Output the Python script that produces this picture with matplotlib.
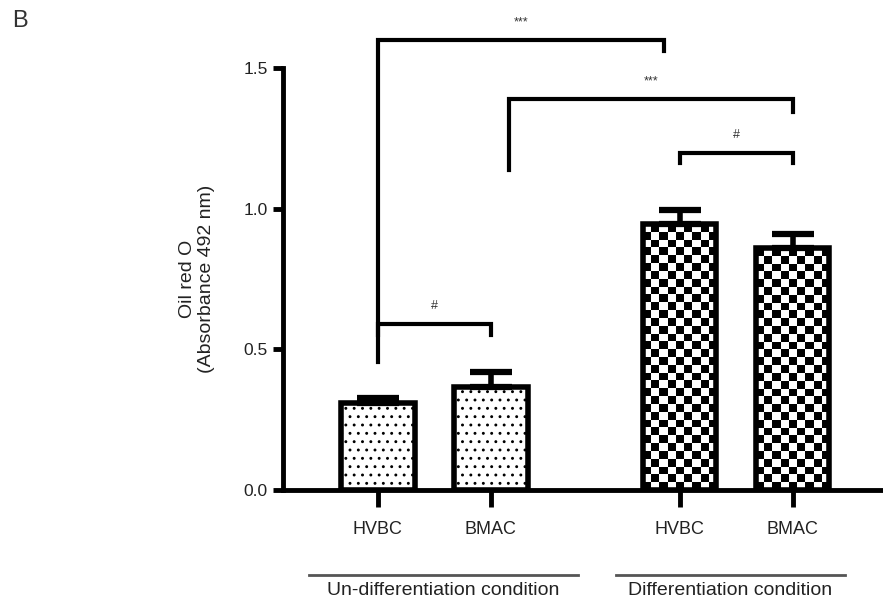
import numpy as np
import matplotlib
matplotlib.use("Agg")
import matplotlib.pyplot as plt
import matplotlib.transforms as mtransforms

plt.rcParams["font.family"] = ["Liberation Sans", "DejaVu Sans"]
plt.rcParams["hatch.linewidth"] = 0.9

# data
labels = ["HVBC", "BMAC", "HVBC", "BMAC"]
values = [0.31, 0.365, 0.945, 0.86]
errors = [0.016, 0.055, 0.05, 0.05]
groups = ["Un-differentiation condition", "Differentiation condition"]

# significance brackets: left x, right x, top y, left leg end, right leg end, label
brackets = [
    (0.0, 2.53, 1.598, 0.456, 1.559, "***"),
    (1.16, 3.67, 1.391, 1.139, 1.345, "***"),
    (2.67, 3.67, 1.199, 1.164, 1.164, "#"),
    (0.0, 1.0, 0.590, 0.552, 0.552, "#"),
]

x = np.array([0, 1, 2.67, 3.67])
bar_w = 0.65

fig = plt.figure(figsize=(8.83, 6.02), dpi=100)
ax = fig.add_axes([283 / 883, 112 / 602, 600 / 883, 422 / 602])

# un-differentiation bars: dotted fill
ax.bar(x[:2], values[:2], width=bar_w, facecolor="white", edgecolor="black",
       linewidth=4, hatch="..", zorder=3)

# differentiation bars: checkerboard clipped to the bar outline
bars = ax.bar(x[2:], values[2:], width=bar_w, facecolor="none", edgecolor="black",
              linewidth=4, zorder=4)
cell_x, cell_y = 0.07, 0.028
for b in bars:
    x0, w, h = b.get_x(), b.get_width(), b.get_height()
    nx = int(round(w / cell_x))
    ny = int(round(h / cell_y))
    board = (np.indices((ny, nx)).sum(axis=0) % 2).astype(float)
    im = ax.imshow(board, cmap="gray", extent=(x0, x0 + w, 0, h), origin="lower",
                   interpolation="nearest", aspect="auto", zorder=2)
    im.set_clip_path(b)

eb = ax.errorbar(x, values, yerr=[np.zeros(len(errors)), errors], fmt="none",
                 ecolor="black", elinewidth=4, capsize=15, capthick=4.5, zorder=5)
for cap in eb[1]:
    cap.set_solid_capstyle("round")

ax.set_xlim(-0.84, 4.47)
ax.set_ylim(0, 1.5)
ax.spines["top"].set_visible(False)
ax.spines["right"].set_visible(False)
ax.spines["left"].set_linewidth(3.5)
ax.spines["bottom"].set_linewidth(3.5)
ax.set_yticks([0.0, 0.5, 1.0, 1.5])
ax.set_yticklabels(["0.0", "0.5", "1.0", "1.5"])
ax.set_xticks(x)
ax.set_xticklabels(labels)
ax.tick_params(axis="y", length=7, width=3.5, pad=4, labelsize=12.5, labelcolor="#222222")
ax.tick_params(axis="x", length=12, width=3.5, pad=10, labelsize=13, labelcolor="#222222")

for left, right, top, lb, rb, txt in brackets:
    ax.plot([left, left, right, right], [lb, top, top, rb], color="black",
            lw=3, solid_joinstyle="miter", clip_on=False, zorder=6)
    ax.text((left + right) / 2, top + 0.063, txt, ha="center", va="center",
            fontsize=9, color="#333333", clip_on=False)

# group lines and labels under the axis
trans = mtransforms.blended_transform_factory(ax.transData, ax.transAxes)
spans = [(x[0] - 0.61, x[1] + 0.77), (x[2] - 0.56, x[3] + 0.46)]
for (a, b), name in zip(spans, groups):
    ax.plot([a, b], [-0.201, -0.201], color="#555555", lw=2, transform=trans, clip_on=False)
    ax.text((a + b) / 2, -0.237, name, ha="center", va="center", fontsize=14,
            color="#222222", transform=trans)

fig.text(197 / 883, 1 - 279 / 602, "Oil red O\n(Absorbance 492 nm)", rotation=90,
         ha="center", va="center", multialignment="center", fontsize=14,
         linespacing=1.1, color="#222222")
fig.text(20 / 883, 1 - 21 / 602, "B", ha="center", va="center", fontsize=17, color="#333333")

fig.savefig("out.png", dpi=100)
